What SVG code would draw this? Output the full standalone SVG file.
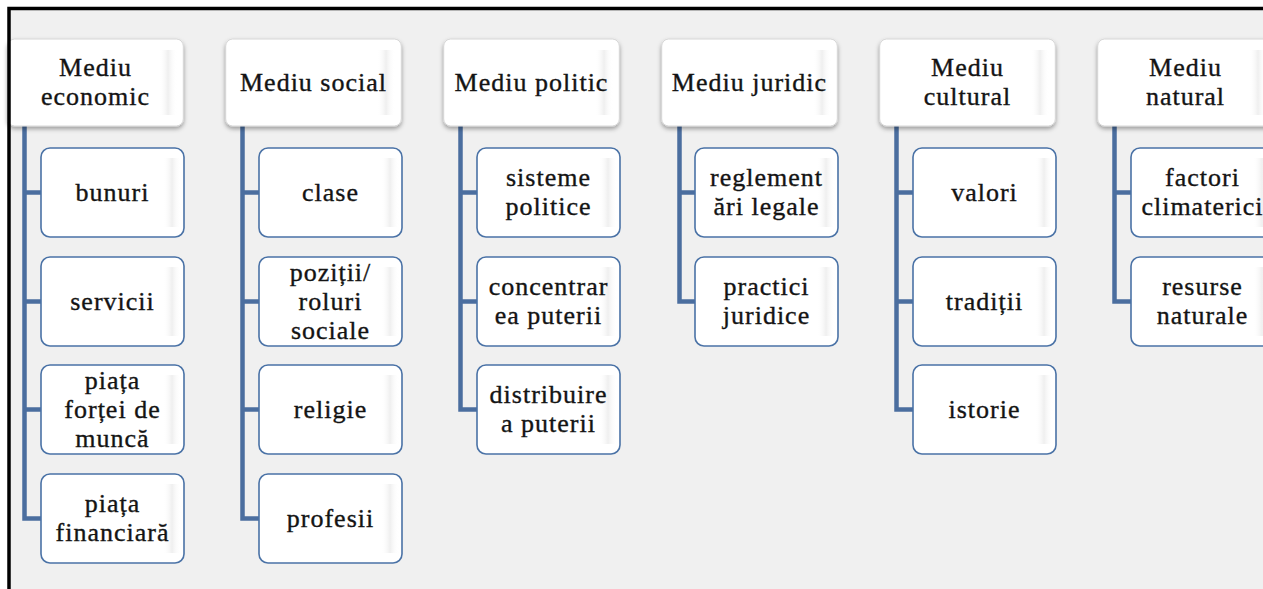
<svg xmlns="http://www.w3.org/2000/svg" width="1263" height="589" viewBox="0 0 1263 589">
<defs>
<style>
.t{font-family:"Liberation Serif","Times New Roman",serif;font-size:26px;letter-spacing:1px;fill:#141414;stroke:#141414;stroke-width:0.35px;text-anchor:middle}
.top{fill:#ffffff;stroke:#d6d6d6;stroke-width:1}
.child{fill:#ffffff;stroke:#4a72a6;stroke-width:1.6}
.conn{fill:none;stroke:#4b6e9f;stroke-width:4.5;stroke-linejoin:miter}
.gl{fill:url(#gloss)}
</style>
<filter id="sh" x="-10%" y="-10%" width="120%" height="130%">
<feDropShadow dx="0" dy="2.5" stdDeviation="2" flood-color="#000" flood-opacity="0.35"/>
</filter>
<linearGradient id="gloss" x1="0" y1="0" x2="1" y2="0">
<stop offset="0" stop-color="#ffffff" stop-opacity="0"/>
<stop offset="0.5" stop-color="#efefef"/>
<stop offset="1" stop-color="#ffffff" stop-opacity="0"/>
</linearGradient>
</defs>
<rect x="0" y="0" width="1263" height="589" fill="#ffffff"/>
<rect x="9" y="8.5" width="1300" height="700" fill="#f0f0f0"/>

<g id="connectors">
<path class="conn" d="M24.5,126 V518.5 H41 M24.5,192.5 H41 M24.5,301.5 H41 M24.5,409.5 H41"/>
<path class="conn" d="M242.5,126 V518.5 H259 M242.5,192.5 H259 M242.5,301.5 H259 M242.5,409.5 H259"/>
<path class="conn" d="M460.5,126 V409.5 H477 M460.5,192.5 H477 M460.5,301.5 H477"/>
<path class="conn" d="M679.5,126 V301.5 H695 M679.5,192.5 H695"/>
<path class="conn" d="M896.5,126 V409.5 H913 M896.5,192.5 H913 M896.5,301.5 H913"/>
<path class="conn" d="M1114.5,126 V301.5 H1131 M1114.5,192.5 H1131"/>
</g>

<!-- Column 1 -->
<g id="mediu-economic">
<rect class="top" x="7.7" y="39" width="175.6" height="87" rx="7" filter="url(#sh)"/>
<rect class="gl" x="159" y="50" width="18" height="65"/>
<text class="t" x="95.5" y="76">Mediu</text>
<text class="t" x="95.5" y="105">economic</text>
</g>
<g id="bunuri">
<rect class="child" x="41" y="148" width="143" height="89" rx="9"/>
<rect class="gl" x="163" y="158" width="18" height="69"/>
<text class="t" x="112.5" y="200.5">bunuri</text>
</g>
<g id="servicii">
<rect class="child" x="41" y="257" width="143" height="89" rx="9"/>
<rect class="gl" x="163" y="267" width="18" height="69"/>
<text class="t" x="112.5" y="309.5">servicii</text>
</g>
<g id="piata-fortei-de-munca">
<rect class="child" x="41" y="365" width="143" height="89" rx="9"/>
<rect class="gl" x="163" y="375" width="18" height="69"/>
<text class="t" x="112.5" y="388.5">piața</text>
<text class="t" x="112.5" y="417.5">forței de</text>
<text class="t" x="112.5" y="446.5">muncă</text>
</g>
<g id="piata-financiara">
<rect class="child" x="41" y="474" width="143" height="89" rx="9"/>
<rect class="gl" x="163" y="484" width="18" height="69"/>
<text class="t" x="112.5" y="512">piața</text>
<text class="t" x="112.5" y="541">financiară</text>
</g>

<!-- Column 2 -->
<g id="mediu-social">
<rect class="top" x="225.7" y="39" width="175.6" height="87" rx="7" filter="url(#sh)"/>
<rect class="gl" x="377" y="50" width="18" height="65"/>
<text class="t" x="313.5" y="90.5">Mediu social</text>
</g>
<g id="clase">
<rect class="child" x="259" y="148" width="143" height="89" rx="9"/>
<rect class="gl" x="381" y="158" width="18" height="69"/>
<text class="t" x="330.5" y="200.5">clase</text>
</g>
<g id="pozitii-roluri-sociale">
<rect class="child" x="259" y="257" width="143" height="89" rx="9"/>
<rect class="gl" x="381" y="267" width="18" height="69"/>
<text class="t" x="330.5" y="280.5">poziții/</text>
<text class="t" x="330.5" y="309.5">roluri</text>
<text class="t" x="330.5" y="338.5">sociale</text>
</g>
<g id="religie">
<rect class="child" x="259" y="365" width="143" height="89" rx="9"/>
<rect class="gl" x="381" y="375" width="18" height="69"/>
<text class="t" x="330.5" y="417.5">religie</text>
</g>
<g id="profesii">
<rect class="child" x="259" y="474" width="143" height="89" rx="9"/>
<rect class="gl" x="381" y="484" width="18" height="69"/>
<text class="t" x="330.5" y="526.5">profesii</text>
</g>

<!-- Column 3 -->
<g id="mediu-politic">
<rect class="top" x="443.7" y="39" width="175.6" height="87" rx="7" filter="url(#sh)"/>
<rect class="gl" x="595" y="50" width="18" height="65"/>
<text class="t" x="531.5" y="90.5">Mediu politic</text>
</g>
<g id="sisteme-politice">
<rect class="child" x="477" y="148" width="143" height="89" rx="9"/>
<rect class="gl" x="599" y="158" width="18" height="69"/>
<text class="t" x="548.5" y="186">sisteme</text>
<text class="t" x="548.5" y="215">politice</text>
</g>
<g id="concentrarea-puterii">
<rect class="child" x="477" y="257" width="143" height="89" rx="9"/>
<rect class="gl" x="599" y="267" width="18" height="69"/>
<text class="t" x="548.5" y="295">concentrar</text>
<text class="t" x="548.5" y="324">ea puterii</text>
</g>
<g id="distribuirea-puterii">
<rect class="child" x="477" y="365" width="143" height="89" rx="9"/>
<rect class="gl" x="599" y="375" width="18" height="69"/>
<text class="t" x="548.5" y="403">distribuire</text>
<text class="t" x="548.5" y="432">a puterii</text>
</g>

<!-- Column 4 -->
<g id="mediu-juridic">
<rect class="top" x="661.7" y="39" width="175.6" height="87" rx="7" filter="url(#sh)"/>
<rect class="gl" x="813" y="50" width="18" height="65"/>
<text class="t" x="749.5" y="90.5">Mediu juridic</text>
</g>
<g id="reglementari-legale">
<rect class="child" x="695" y="148" width="143" height="89" rx="9"/>
<rect class="gl" x="817" y="158" width="18" height="69"/>
<text class="t" x="766.5" y="186">reglement</text>
<text class="t" x="766.5" y="215">ări legale</text>
</g>
<g id="practici-juridice">
<rect class="child" x="695" y="257" width="143" height="89" rx="9"/>
<rect class="gl" x="817" y="267" width="18" height="69"/>
<text class="t" x="766.5" y="295">practici</text>
<text class="t" x="766.5" y="324">juridice</text>
</g>

<!-- Column 5 -->
<g id="mediu-cultural">
<rect class="top" x="879.7" y="39" width="175.6" height="87" rx="7" filter="url(#sh)"/>
<rect class="gl" x="1031" y="50" width="18" height="65"/>
<text class="t" x="967.5" y="76">Mediu</text>
<text class="t" x="967.5" y="105">cultural</text>
</g>
<g id="valori">
<rect class="child" x="913" y="148" width="143" height="89" rx="9"/>
<rect class="gl" x="1035" y="158" width="18" height="69"/>
<text class="t" x="984.5" y="200.5">valori</text>
</g>
<g id="traditii">
<rect class="child" x="913" y="257" width="143" height="89" rx="9"/>
<rect class="gl" x="1035" y="267" width="18" height="69"/>
<text class="t" x="984.5" y="309.5">tradiții</text>
</g>
<g id="istorie">
<rect class="child" x="913" y="365" width="143" height="89" rx="9"/>
<rect class="gl" x="1035" y="375" width="18" height="69"/>
<text class="t" x="984.5" y="417.5">istorie</text>
</g>

<!-- Column 6 -->
<g id="mediu-natural">
<rect class="top" x="1097.7" y="39" width="175.6" height="87" rx="7" filter="url(#sh)"/>
<rect class="gl" x="1249" y="50" width="18" height="65"/>
<text class="t" x="1185.5" y="76">Mediu</text>
<text class="t" x="1185.5" y="105">natural</text>
</g>
<g id="factori-climaterici">
<rect class="child" x="1131" y="148" width="143" height="89" rx="9"/>
<rect class="gl" x="1253" y="158" width="18" height="69"/>
<text class="t" x="1202.5" y="186">factori</text>
<text class="t" x="1202.5" y="215">climaterici</text>
</g>
<g id="resurse-naturale">
<rect class="child" x="1131" y="257" width="143" height="89" rx="9"/>
<rect class="gl" x="1253" y="267" width="18" height="69"/>
<text class="t" x="1202.5" y="295">resurse</text>
<text class="t" x="1202.5" y="324">naturale</text>
</g>

<g id="frame">
<path d="M9,600 V8.5 H1270" fill="none" stroke="#000" stroke-width="3.5"/>
</g>
</svg>
